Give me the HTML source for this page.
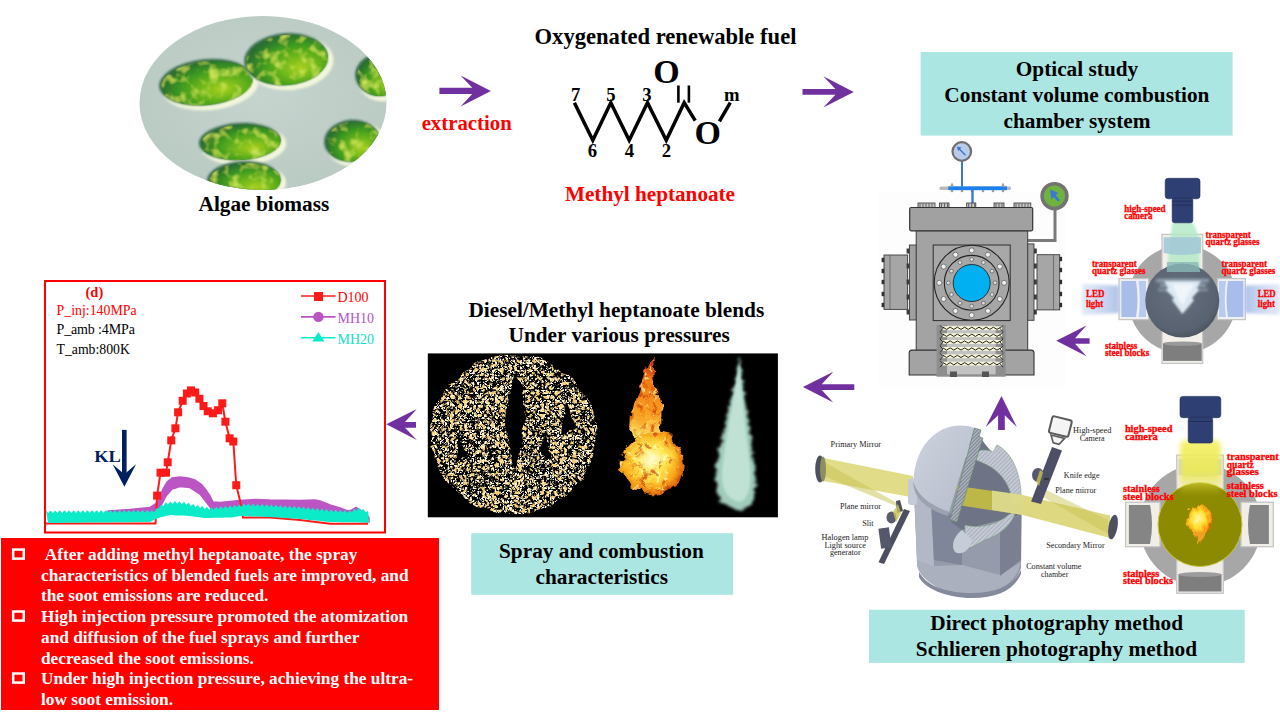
<!DOCTYPE html>
<html><head><meta charset="utf-8">
<style>
html,body{margin:0;padding:0;background:#fff;width:1280px;height:720px;overflow:hidden}
svg{display:block}
text{font-family:"Liberation Serif",serif}
.b{font-weight:bold}
.t21{font-size:21.3px;font-weight:bold;fill:#000}
</style></head><body>
<svg width="1280" height="720" viewBox="0 0 1280 720">
<defs>
</defs>
<rect width="1280" height="720" fill="#fff"/>

<!-- ===== ALGAE ===== -->
<g id="algae">
<clipPath id="algclip"><ellipse cx="263" cy="103" rx="123.5" ry="87"/></clipPath>
<radialGradient id="cellg" cx="0.62" cy="0.62" r="0.62" fx="0.66" fy="0.68">
<stop offset="0" stop-color="#A8D020"/><stop offset="0.35" stop-color="#70B81C"/><stop offset="0.7" stop-color="#3C9A20"/><stop offset="1" stop-color="#2A7030"/>
</radialGradient>
<radialGradient id="bgg" cx="0.5" cy="0.45" r="0.7">
<stop offset="0" stop-color="#C6D4CE"/><stop offset="1" stop-color="#B6C8C0"/>
</radialGradient>
<filter id="blot" x="-20%" y="-20%" width="140%" height="140%">
<feTurbulence type="fractalNoise" baseFrequency="0.1" numOctaves="2" seed="3" result="n"/>
<feColorMatrix in="n" type="matrix" values="0 0 0 0 0.64  0 0 0 0 0.83  0 0 0 0 0.1  2.2 0 0 0 -1.05" result="c"/>
<feComposite in="c" in2="SourceGraphic" operator="in" result="cc"/>
<feMerge><feMergeNode in="SourceGraphic"/><feMergeNode in="cc"/></feMerge>
</filter>
<filter id="soft"><feGaussianBlur stdDeviation="1.2"/></filter>
<g clip-path="url(#algclip)">
<rect x="135" y="12" width="256" height="182" fill="url(#bgg)"/>
<g transform="rotate(-6 207 83)"><ellipse cx="209.8" cy="85.8" rx="48.6" ry="24.6" fill="#F2F6DC" filter="url(#soft)"/><ellipse cx="206" cy="82" rx="47" ry="23" fill="#3C6E50" filter="url(#soft)"/><ellipse cx="207" cy="83" rx="46" ry="22" fill="url(#cellg)" filter="url(#blot)"/></g>
<g transform="rotate(-5 287 60)"><ellipse cx="289.8" cy="62.8" rx="43.6" ry="27.6" fill="#F2F6DC" filter="url(#soft)"/><ellipse cx="286" cy="59" rx="42" ry="26" fill="#3C6E50" filter="url(#soft)"/><ellipse cx="287" cy="60" rx="41" ry="25" fill="url(#cellg)" filter="url(#blot)"/></g>
<g transform="rotate(0 380 76)"><ellipse cx="382.8" cy="78.8" rx="25.6" ry="22.6" fill="#F2F6DC" filter="url(#soft)"/><ellipse cx="379" cy="75" rx="24" ry="21" fill="#3C6E50" filter="url(#soft)"/><ellipse cx="380" cy="76" rx="23" ry="20" fill="url(#cellg)" filter="url(#blot)"/></g>
<g transform="rotate(-3 240.8 142.4)"><ellipse cx="243.6" cy="145.2" rx="42.6" ry="20.2" fill="#F2F6DC" filter="url(#soft)"/><ellipse cx="239.8" cy="141.4" rx="41" ry="18.6" fill="#3C6E50" filter="url(#soft)"/><ellipse cx="240.8" cy="142.4" rx="40" ry="17.6" fill="url(#cellg)" filter="url(#blot)"/></g>
<g transform="rotate(-2 244.7 181)"><ellipse cx="247.5" cy="183.8" rx="38.6" ry="20.6" fill="#F2F6DC" filter="url(#soft)"/><ellipse cx="243.7" cy="180" rx="37" ry="19" fill="#3C6E50" filter="url(#soft)"/><ellipse cx="244.7" cy="181" rx="36" ry="18" fill="url(#cellg)" filter="url(#blot)"/></g>
<g transform="rotate(-5 353 141.6)"><ellipse cx="355.8" cy="144.4" rx="29.6" ry="22.6" fill="#F2F6DC" filter="url(#soft)"/><ellipse cx="352" cy="140.6" rx="28" ry="21" fill="#3C6E50" filter="url(#soft)"/><ellipse cx="353" cy="141.6" rx="27" ry="20" fill="url(#cellg)" filter="url(#blot)"/></g>
</g></g>
<text class="t21" x="263.9" y="210.5" text-anchor="middle">Algae biomass</text>


<text x="466.7" y="130.2" text-anchor="middle" style="font-size:20.8px;font-weight:bold;fill:#f00">extraction</text>

<!-- ===== CHEM ===== -->
<text x="665.5" y="44.4" text-anchor="middle" style="font-size:22.6px;font-weight:bold">Oxygenated renewable fuel</text>
<g fill="none" stroke="#000" stroke-width="3.5" stroke-linejoin="miter">
<polyline points="574.4,102.7 592.8,140.2 610.8,102.7 629.2,140.2 647.5,102.7 666.25,140.2 684.2,102.7 695.2,120.6"/>
<line x1="719.4" y1="121.4" x2="730.3" y2="102.7"/>
<line x1="678.4" y1="85.5" x2="678.4" y2="102.7" stroke-width="2.6"/>
<line x1="688.9" y1="85.5" x2="688.9" y2="102.7" stroke-width="2.6"/>
</g>
<g style="font-size:18.7px;font-weight:bold" text-anchor="middle">
<text x="575.7" y="101">7</text><text x="610.8" y="101">5</text><text x="647" y="101">3</text><text x="731.8" y="101">m</text>
<text x="592.3" y="157.3">6</text><text x="629.4" y="157.3">4</text><text x="666.3" y="157.3">2</text>
</g>
<g style="font-size:34px;font-weight:bold" text-anchor="middle">
<text x="666.5" y="83">O</text><text x="707.7" y="144">O</text>
</g>
<text x="650" y="200.6" text-anchor="middle" style="font-size:21.2px;font-weight:bold;fill:#f00">Methyl heptanoate</text>

<!-- ===== TEAL BOXES ===== -->
<rect x="920.6" y="52" width="312" height="83.6" fill="#ABE6E2"/>
<text class="t21" x="1077" y="76.4" text-anchor="middle">Optical study</text>
<text class="t21" x="1076.9" y="101.9" text-anchor="middle">Constant volume combustion</text>
<text class="t21" x="1077" y="127.6" text-anchor="middle">chamber system</text>

<rect x="471.2" y="533.2" width="261.9" height="61.6" fill="#ABE6E2"/>
<text class="t21" x="601.4" y="557.8" text-anchor="middle">Spray and combustion</text>
<text class="t21" x="601.7" y="583.8" text-anchor="middle">characteristics</text>

<rect x="869" y="609.8" width="375.7" height="53.1" fill="#ABE6E2"/>
<text class="t21" x="1056.7" y="630.1" text-anchor="middle">Direct photography method</text>
<text class="t21" x="1056.4" y="656.4" text-anchor="middle">Schlieren photography method</text>

<text class="t21" x="616.3" y="316.6" text-anchor="middle">Diesel/Methyl heptanoate blends</text>
<text class="t21" x="619.2" y="342" text-anchor="middle">Under various pressures</text>

<!-- ===== SPRAY IMAGE ===== -->
<rect x="427.8" y="353.4" width="350.1" height="163.9" fill="#000"/>
<g id="spray">
<clipPath id="sprclip"><rect x="427.8" y="353.4" width="350.1" height="163.9"/></clipPath>
<filter id="speck" x="0" y="0" width="100%" height="100%" filterUnits="userSpaceOnUse" color-interpolation-filters="sRGB">
<feTurbulence type="turbulence" baseFrequency="0.22" numOctaves="3" seed="7" result="n"/>
<feColorMatrix in="n" type="matrix" values="0 0 0 0 0.96  0 0 0 0 0.8  0 0 0 0 0.45  5 0 0 0 -1.3" result="c"/>
<feTurbulence type="turbulence" baseFrequency="0.4" numOctaves="2" seed="21" result="n2"/>
<feColorMatrix in="n2" type="matrix" values="0 0 0 0 1  0 0 0 0 0.98  0 0 0 0 0.88  6 0 0 0 -1.6" result="c2"/>
<feMerge result="m"><feMergeNode in="c"/><feMergeNode in="c2"/></feMerge>
<feTurbulence type="fractalNoise" baseFrequency="0.06" numOctaves="2" seed="13" result="dn"/>
<feDisplacementMap in="SourceGraphic" in2="dn" scale="9" xChannelSelector="R" yChannelSelector="G" result="src"/>
<feComposite in="m" in2="src" operator="in"/>
</filter>
<filter id="flameT" x="-30%" y="-30%" width="160%" height="160%">
<feTurbulence type="fractalNoise" baseFrequency="0.08" numOctaves="3" seed="11" result="n"/>
<feDisplacementMap in="SourceGraphic" in2="n" scale="12" xChannelSelector="R" yChannelSelector="G"/>
</filter>
<filter id="blur3"><feGaussianBlur stdDeviation="3"/></filter>
<filter id="blur15"><feGaussianBlur stdDeviation="1.8"/></filter>
<filter id="sprayT" x="-40%" y="-20%" width="180%" height="140%">
<feTurbulence type="fractalNoise" baseFrequency="0.09 0.25" numOctaves="3" seed="17" result="n"/>
<feDisplacementMap in="SourceGraphic" in2="n" scale="8" xChannelSelector="R" yChannelSelector="G" result="d"/>
<feGaussianBlur in="d" stdDeviation="1.6"/>
</filter>
<filter id="flameTex" x="-30%" y="-30%" width="160%" height="160%" color-interpolation-filters="sRGB">
<feTurbulence type="fractalNoise" baseFrequency="0.14" numOctaves="3" seed="4" result="n"/>
<feColorMatrix in="n" type="matrix" values="0 0 0 0 0.78  0 0 0 0 0.2  0 0 0 0 0.02  -5 0 0 0 2.2" result="c"/>
<feComposite in="c" in2="SourceGraphic" operator="in" result="dark"/>
<feTurbulence type="fractalNoise" baseFrequency="0.2" numOctaves="2" seed="9" result="n2"/>
<feColorMatrix in="n2" type="matrix" values="0 0 0 0 1  0 0 0 0 1  0 0 0 0 0.75  6 0 0 0 -3.6" result="c2"/>
<feComposite in="c2" in2="SourceGraphic" operator="in" result="lite"/>
<feMerge><feMergeNode in="dark"/><feMergeNode in="lite"/></feMerge>
</filter>
<filter id="blur1"><feGaussianBlur stdDeviation="1"/></filter>
<radialGradient id="flameG" cx="0.45" cy="0.45" r="0.6">
<stop offset="0" stop-color="#FFFAD0"/><stop offset="0.4" stop-color="#FFE850"/><stop offset="0.72" stop-color="#F8A818"/><stop offset="1" stop-color="#D04808"/>
</radialGradient>
<linearGradient id="plumeG" x1="0" y1="0" x2="0" y2="1">
<stop offset="0" stop-color="#C83010"/><stop offset="0.3" stop-color="#F27A12"/><stop offset="0.7" stop-color="#F8A020"/><stop offset="1" stop-color="#FFE060"/>
</linearGradient>
<g clip-path="url(#sprclip)">
<g filter="url(#speck)">
<path fill="#fff" fill-rule="evenodd" d="M513.6,355.6 a83,79 0 1,0 0.1,0 Z M516,372 C506,400 503,440 515,470 C527,440 528,400 516,372 Z M566,402 L578,428 L562,434 Z M546,432 L550,462 L539,452 Z M458,436 L468,458 L454,464 Z"/>
</g>
<g filter="url(#flameT)">
<path d="M655,358 C657,366 652,376 656,386 C662,396 662,412 661,428 L664,436 L632,438 C630,420 633,404 638,394 C642,386 643,376 647,368 C650,363 653,361 655,358 Z" fill="url(#plumeG)"/>
<ellipse cx="653.7" cy="463.4" rx="32" ry="31" fill="url(#flameG)"/>
<g filter="url(#flameTex)" opacity="0.7">
<ellipse cx="653.7" cy="463.4" rx="32" ry="31" fill="#fff"/>
<path d="M655,358 C657,366 652,376 656,386 C662,396 662,412 661,428 L632,438 C630,420 633,404 638,394 C642,386 643,376 647,368 Z" fill="#fff"/>
</g>
</g>
<path d="M739.4,355 C742,380 748,420 753,455 C758,485 757,505 740,510 C722,508 713,495 716,470 C722,430 735,390 739.4,355 Z" fill="#A0CCBC" filter="url(#sprayT)"/>
<path d="M739.4,362 C741,390 745,425 749,458 C752,482 750,498 740,502 C728,500 721,490 722,472 C726,435 735,395 739.4,362 Z" fill="#C0E2D4" filter="url(#blur1)"/>
</g>
</g>

<!-- ===== CHART ===== -->
<rect x="45" y="281" width="340" height="251.5" fill="#fff" stroke="#f00" stroke-width="2"/>
<g id="chart">
<polygon points="108,511 130,509.5 150,507.5 157,503 160,497 163,489 167,482 172,478 180,477 188,478 195,480 201,484 206,490 210,496 213,502 220,502.5 240,500.5 255,499.4 270,500 300,500.5 315,500 320,501 330,505 340,508 348,511 352,510 356,507.5 360,510 366,513 369,518 369,522 213,511 207,503 200,494 190,487.5 180,486.5 172,489 166,496 161,506 155,514 108,516" fill="#BC55C4" stroke="#BC55C4" stroke-width="1.5" stroke-linejoin="round"/>
<polyline points="46,523.5 155.5,523.5 157.1,495.6 160.5,472.7 166,472.7 167.7,462.3 171.25,440.4 175.4,428.3 178.1,412.3 182.7,400.8 186.9,393.5 191,390.4 195.2,392.5 199.4,398.75 203.5,406 207.7,411.25 212.9,413.3 218.1,410.2 222.3,403.3 225.4,421.7 229.6,438.3 233.3,441.5 236.25,485.2 240,500.8 243,517.5 270,517.5 300,520 330,523.7 368,523.7" fill="none" stroke="#FF1A1A" stroke-width="2"/>
<g fill="#FF1A1A"><rect x="153.1" y="491.6" width="8" height="8"/><rect x="156.5" y="468.7" width="8" height="8"/><rect x="162" y="468.7" width="8" height="8"/><rect x="163.7" y="458.3" width="8" height="8"/><rect x="167.25" y="436.4" width="8" height="8"/><rect x="171.4" y="424.3" width="8" height="8"/><rect x="174.1" y="408.3" width="8" height="8"/><rect x="178.7" y="396.8" width="8" height="8"/><rect x="182.9" y="389.5" width="8" height="8"/><rect x="187" y="386.4" width="8" height="8"/><rect x="191.2" y="388.5" width="8" height="8"/><rect x="195.4" y="394.75" width="8" height="8"/><rect x="199.5" y="402" width="8" height="8"/><rect x="203.7" y="407.25" width="8" height="8"/><rect x="208.9" y="409.3" width="8" height="8"/><rect x="214.1" y="406.2" width="8" height="8"/><rect x="218.3" y="399.3" width="8" height="8"/><rect x="221.4" y="417.7" width="8" height="8"/><rect x="225.6" y="434.3" width="8" height="8"/><rect x="229.3" y="437.5" width="8" height="8"/><rect x="232.25" y="481.2" width="8" height="8"/></g>
<polygon points="46.0,510.4 48.3,513.0 50.6,510.4 52.9,513.0 55.2,510.4 57.5,512.9 59.8,510.3 62.1,512.9 64.4,510.3 66.7,512.9 69.0,510.3 71.3,512.9 73.6,510.3 75.9,512.9 78.2,510.3 80.5,512.8 82.8,510.2 85.1,512.8 87.4,510.2 89.7,512.8 92.0,510.2 94.3,512.8 96.6,510.2 98.9,512.8 101.2,510.1 103.5,512.7 105.8,510.1 108.1,512.7 110.4,510.1 112.7,512.7 115.0,510.1 117.3,512.7 119.6,510.1 121.9,512.7 124.2,510.0 126.5,512.6 128.8,510.0 131.1,512.6 133.4,510.0 135.7,512.6 138.0,510.0 140.3,512.6 142.6,510.0 144.9,512.5 147.2,509.9 149.5,512.5 151.8,509.9 154.1,512.5 156.4,508.3 158.7,508.6 161.0,504.7 163.3,506.0 165.6,502.3 167.9,504.6 170.2,501.6 172.5,503.9 174.8,500.9 177.1,503.7 179.4,501.3 181.7,504.2 184.0,501.8 186.3,504.8 188.6,502.8 190.9,506.0 193.2,504.0 195.5,507.1 197.8,505.0 200.1,508.0 202.4,505.9 204.7,508.9 207.0,506.8 209.3,509.9 211.6,507.2 213.9,509.6 216.2,506.8 218.5,509.1 220.8,506.3 223.1,508.7 225.4,505.9 227.7,508.2 230.0,505.4 232.3,507.8 234.6,504.9 236.9,507.3 239.2,504.5 241.5,506.7 243.8,503.6 246.1,506.0 248.4,503.5 250.7,506.2 253.0,503.7 255.3,506.4 257.6,503.9 259.9,506.6 262.2,504.1 264.5,506.8 266.8,504.3 269.1,507.0 271.4,504.5 273.7,507.2 276.0,504.8 278.3,507.6 280.6,505.1 282.9,507.9 285.2,505.4 287.5,508.2 289.8,505.7 292.1,508.5 294.4,506.0 296.7,508.8 299.0,506.3 301.3,509.1 303.6,506.8 305.9,509.6 308.2,507.2 310.5,510.1 312.8,507.7 315.1,510.5 317.4,508.1 319.7,511.0 322.0,508.6 324.3,511.4 326.6,509.1 328.9,511.9 331.2,509.5 333.5,512.2 335.8,509.7 338.1,512.4 340.4,509.9 342.7,512.6 345.0,510.1 347.3,512.9 349.6,510.4 351.9,512.2 354.2,508.7 356.5,510.7 358.8,507.6 361.1,510.5 363.4,508.9 365.7,512.5 368.0,511.0 369.0,522.5 366.0,522.5 363.0,522.4 360.0,522.4 357.0,522.3 354.0,522.3 351.0,522.3 348.0,522.2 345.0,522.2 342.0,522.2 339.0,522.1 336.0,522.1 333.0,522.0 330.0,522.0 327.0,521.7 324.0,521.4 321.0,521.1 318.0,520.8 315.0,520.5 312.0,520.2 309.0,519.9 306.0,519.6 303.0,519.3 300.0,519.0 297.0,518.8 294.0,518.6 291.0,518.4 288.0,518.2 285.0,518.0 282.0,517.8 279.0,517.6 276.0,517.4 273.0,517.2 270.0,517.0 267.0,516.9 264.0,516.8 261.0,516.7 258.0,516.6 255.0,516.5 252.0,516.4 249.0,516.3 246.0,516.2 243.0,516.1 240.0,516.0 237.0,516.5 234.0,516.9 231.0,517.4 228.0,517.5 225.0,517.6 222.0,517.7 219.0,517.7 216.0,517.8 213.0,517.8 210.0,517.9 207.0,518.0 204.0,517.9 201.0,517.5 198.0,517.1 195.0,516.7 192.0,516.3 189.0,516.0 186.0,515.8 183.0,515.6 180.0,515.5 177.0,515.4 174.0,515.2 171.0,515.0 168.0,515.5 165.0,516.2 162.0,517.0 159.0,517.8 156.0,519.0 153.0,520.5 150.0,522.0 147.0,522.0 144.0,522.1 141.0,522.1 138.0,522.1 135.0,522.1 132.0,522.2 129.0,522.2 126.0,522.2 123.0,522.3 120.0,522.3 117.0,522.3 114.0,522.3 111.0,522.4 108.0,522.4 105.0,522.4 102.0,522.5 99.0,522.5 96.0,522.5 93.0,522.5 90.0,522.6 87.0,522.6 84.0,522.6 81.0,522.7 78.0,522.7 75.0,522.7 72.0,522.8 69.0,522.8 66.0,522.8 63.0,522.8 60.0,522.9 57.0,522.9 54.0,522.9 51.0,523.0 48.0,523.0" fill="#0CEBC8"/>
<!-- legend -->
<line x1="301" y1="296" x2="335.6" y2="296" stroke="#FF1A1A" stroke-width="1.6"/>
<rect x="314" y="292" width="9" height="9" fill="#FF1A1A"/>
<line x1="301" y1="316.9" x2="335.6" y2="316.9" stroke="#BC55C4" stroke-width="1.6"/>
<circle cx="318.4" cy="316.9" r="5.2" fill="#BC55C4"/>
<line x1="301" y1="337.75" x2="335.6" y2="337.75" stroke="#0CEBC8" stroke-width="1.6"/>
<polygon points="318.4,331.9 324.4,341.6 312.3,341.6" fill="#0CEBC8"/>
<!-- KL arrow -->
<text x="94.2" y="461.7" textLength="26.6" lengthAdjust="spacingAndGlyphs" style="font-size:17.2px;font-weight:bold;fill:#002060">KL</text>
<rect x="122" y="429.9" width="4.6" height="48" fill="#002060"/>
<polygon points="124.4,486.7 112.6,464.3 124.4,474.2 136,464.3" fill="#002060"/>
</g>
<text x="94.4" y="296.6" text-anchor="middle" style="font-size:14.5px;font-weight:bold;fill:#f00">(d)</text>
<g style="font-size:14px">
<text x="56.5" y="315" fill="#f00" textLength="80.2" lengthAdjust="spacingAndGlyphs">P_inj:140MPa</text>
<text x="56.5" y="333.75" fill="#000" textLength="78.4" lengthAdjust="spacing">P_amb :4MPa</text>
<text x="56.5" y="353.75" fill="#000" textLength="73.4" lengthAdjust="spacingAndGlyphs">T_amb:800K</text>
<text x="337.5" y="301.9" fill="#f00">D100</text>
<text x="337.5" y="322.75" fill="#B955C6">MH10</text>
<text x="337.5" y="343.5" fill="#0FE0C8">MH20</text>
</g>

<!-- ===== RED BOX ===== -->
<rect x="1" y="538" width="438" height="172" fill="#f00"/>
<g fill="none" stroke="#fff" stroke-width="2.5">
<rect x="13.15" y="549.55" width="10.6" height="9.1"/>
<rect x="13.15" y="611.5" width="10.6" height="9.1"/>
<rect x="13.15" y="673.5" width="10.6" height="9.1"/>
</g>
<g style="font-size:17.3px;font-weight:bold" fill="#fff">
<text x="44.7" y="560.1">After adding methyl heptanoate, the spray</text>
<text x="41" y="580.5">characteristics of blended fuels are improved, and</text>
<text x="41" y="601.0">the soot emissions are reduced.</text>
<text x="41" y="621.8">High injection pressure promoted the atomization</text>
<text x="41" y="642.7">and diffusion of the fuel sprays and further</text>
<text x="41" y="663.5">decreased the soot emissions.</text>
<text x="41" y="684.1">Under high injection pressure, achieving the ultra-</text>
<text x="41" y="704.9">low soot emission.</text>
</g>

<!-- ===== CHAMBER ===== -->
<g id="chamber">
<rect x="878" y="191" width="188" height="196" fill="#FDFDFD"/>
<line x1="962" y1="160" x2="962" y2="188" stroke="#3A78D8" stroke-width="2"/>
<rect x="939.5" y="186.6" width="71.5" height="3.4" rx="1.5" fill="#B8B8B8"/>
<rect x="948.3" y="186.4" width="58.7" height="3.8" fill="#1A80F0"/>
<circle cx="952" cy="191" r="1.3" fill="#9A9A9A"/>
<circle cx="962" cy="191" r="1.3" fill="#9A9A9A"/>
<circle cx="972" cy="191" r="1.3" fill="#9A9A9A"/>
<circle cx="983" cy="191" r="1.3" fill="#9A9A9A"/>
<circle cx="993" cy="191" r="1.3" fill="#9A9A9A"/>
<circle cx="1003" cy="191" r="1.3" fill="#9A9A9A"/>
<polygon points="950,186.5 952,182.5 954,186.5" fill="#A0A0A0"/>
<polygon points="1001,186.5 1003,182.5 1005,186.5" fill="#A0A0A0"/>
<line x1="972.5" y1="189" x2="972.5" y2="206" stroke="#3A78D8" stroke-width="2.4"/>
<circle cx="961.8" cy="151.5" r="9.3" fill="#B8CCEA" stroke="#6E6E6E" stroke-width="2.2"/>
<line x1="958.5" y1="148.2" x2="965.5" y2="155.2" stroke="#3A70C8" stroke-width="1.3"/><polygon points="957,146.5 961.5,147.5 958,151" fill="#3A70C8"/>
<polyline points="1055,208 1055,240.4 1027.5,240.4" fill="none" stroke="#7A7A7A" stroke-width="3"/>
<circle cx="1054.5" cy="196.1" r="12.4" fill="#6FB33E" stroke="#737373" stroke-width="3.6"/>
<polygon points="1050,189.5 1058.5,193 1055.5,195 1060,200 1058,201.5 1053.5,197 1051.5,199.5" fill="#3A78D8"/>
<rect x="884" y="255" width="23.6" height="54.4" fill="#A6A6A6" stroke="#3C3C3C" stroke-width="0.9"/>
<line x1="890" y1="255" x2="890" y2="309.4" stroke="#555" stroke-width="0.7"/>
<rect x="909.4" y="245" width="7" height="75" fill="#A0A0A0" stroke="#3C3C3C" stroke-width="0.9"/>
<rect x="881.6" y="257.8" width="2.6" height="4.4" fill="#2E2E2E"/>
<rect x="881.6" y="268.8" width="2.6" height="4.4" fill="#2E2E2E"/>
<rect x="881.6" y="279.8" width="2.6" height="4.4" fill="#2E2E2E"/>
<rect x="881.6" y="291.8" width="2.6" height="4.4" fill="#2E2E2E"/>
<rect x="881.6" y="302.8" width="2.6" height="4.4" fill="#2E2E2E"/>
<rect x="906.6" y="248.5" width="2.8" height="5" fill="#3A3A3A"/>
<rect x="906.6" y="263.5" width="2.8" height="5" fill="#3A3A3A"/>
<rect x="906.6" y="279.5" width="2.8" height="5" fill="#3A3A3A"/>
<rect x="906.6" y="294.5" width="2.8" height="5" fill="#3A3A3A"/>
<rect x="906.6" y="309.5" width="2.8" height="5" fill="#3A3A3A"/>
<rect x="1037" y="254.7" width="22.7" height="55.2" fill="#A6A6A6" stroke="#3C3C3C" stroke-width="0.9"/>
<line x1="1053.5" y1="254.7" x2="1053.5" y2="309.9" stroke="#555" stroke-width="0.7"/>
<rect x="1027.1" y="243.9" width="6.9" height="76.4" fill="#A0A0A0" stroke="#3C3C3C" stroke-width="0.9"/>
<rect x="1059.5" y="256.8" width="2.6" height="4.4" fill="#2E2E2E"/>
<rect x="1059.5" y="267.8" width="2.6" height="4.4" fill="#2E2E2E"/>
<rect x="1059.5" y="279.8" width="2.6" height="4.4" fill="#2E2E2E"/>
<rect x="1059.5" y="291.8" width="2.6" height="4.4" fill="#2E2E2E"/>
<rect x="1059.5" y="302.8" width="2.6" height="4.4" fill="#2E2E2E"/>
<rect x="1034" y="248.5" width="2.8" height="5" fill="#3A3A3A"/>
<rect x="1034" y="263.5" width="2.8" height="5" fill="#3A3A3A"/>
<rect x="1034" y="279.5" width="2.8" height="5" fill="#3A3A3A"/>
<rect x="1034" y="294.5" width="2.8" height="5" fill="#3A3A3A"/>
<rect x="1034" y="309.5" width="2.8" height="5" fill="#3A3A3A"/>
<rect x="916.2" y="230.6" width="111.5" height="121" fill="#A3A3A3" stroke="#3C3C3C" stroke-width="1"/>
<rect x="939.5" y="203" width="9.5" height="5.5" fill="#C8C8C8" stroke="#333" stroke-width="0.8"/>
<rect x="966.7" y="203" width="9.099999999999909" height="5.5" fill="#C8C8C8" stroke="#333" stroke-width="0.8"/>
<rect x="994" y="203" width="10" height="5.5" fill="#C8C8C8" stroke="#333" stroke-width="0.8"/>
<rect x="1014" y="203" width="16.799999999999955" height="5.5" fill="#C8C8C8" stroke="#333" stroke-width="0.8"/>
<rect x="918" y="203" width="17" height="5.5" fill="#C8C8C8" stroke="#333" stroke-width="0.8"/>
<line x1="941.5" y1="203.5" x2="941.5" y2="208" stroke="#333" stroke-width="0.7"/>
<line x1="944.5" y1="203.5" x2="944.5" y2="208" stroke="#333" stroke-width="0.7"/>
<line x1="947.5" y1="203.5" x2="947.5" y2="208" stroke="#333" stroke-width="0.7"/>
<line x1="968.7" y1="203.5" x2="968.7" y2="208" stroke="#333" stroke-width="0.7"/>
<line x1="971.7" y1="203.5" x2="971.7" y2="208" stroke="#333" stroke-width="0.7"/>
<line x1="974.7" y1="203.5" x2="974.7" y2="208" stroke="#333" stroke-width="0.7"/>
<line x1="996.0" y1="203.5" x2="996.0" y2="208" stroke="#333" stroke-width="0.7"/>
<line x1="999.0" y1="203.5" x2="999.0" y2="208" stroke="#333" stroke-width="0.7"/>
<line x1="1002.0" y1="203.5" x2="1002.0" y2="208" stroke="#333" stroke-width="0.7"/>
<line x1="1016.0" y1="203.5" x2="1016.0" y2="208" stroke="#333" stroke-width="0.7"/>
<line x1="1019.0" y1="203.5" x2="1019.0" y2="208" stroke="#333" stroke-width="0.7"/>
<line x1="1022.0" y1="203.5" x2="1022.0" y2="208" stroke="#333" stroke-width="0.7"/>
<line x1="1025.0" y1="203.5" x2="1025.0" y2="208" stroke="#333" stroke-width="0.7"/>
<line x1="1028.0" y1="203.5" x2="1028.0" y2="208" stroke="#333" stroke-width="0.7"/>
<line x1="920.0" y1="203.5" x2="920.0" y2="208" stroke="#333" stroke-width="0.7"/>
<line x1="923.0" y1="203.5" x2="923.0" y2="208" stroke="#333" stroke-width="0.7"/>
<line x1="926.0" y1="203.5" x2="926.0" y2="208" stroke="#333" stroke-width="0.7"/>
<line x1="929.0" y1="203.5" x2="929.0" y2="208" stroke="#333" stroke-width="0.7"/>
<line x1="932.0" y1="203.5" x2="932.0" y2="208" stroke="#333" stroke-width="0.7"/>
<rect x="909.7" y="207.5" width="123" height="23.3" rx="1.5" fill="#A1A1A1" stroke="#333" stroke-width="1.2"/>
<rect x="933.2" y="245" width="77" height="75.6" fill="#A8A8A8" stroke="#2E2E2E" stroke-width="1"/>
<circle cx="971.7" cy="282.8" r="37.5" fill="#A6A6A6" stroke="#222" stroke-width="1.1"/>
<circle cx="971.7" cy="282.8" r="27.4" fill="#A8A8A8" stroke="#222" stroke-width="1.1"/>
<circle cx="971.7" cy="250.4" r="2.5" fill="#F0F0F0" stroke="#444" stroke-width="0.6"/>
<circle cx="971.7" cy="259.4" r="1.9" fill="#E0E0E0" stroke="#444" stroke-width="0.6"/>
<circle cx="955.5" cy="254.7" r="2.5" fill="#F0F0F0" stroke="#444" stroke-width="0.6"/>
<circle cx="960.0" cy="262.5" r="1.9" fill="#E0E0E0" stroke="#444" stroke-width="0.6"/>
<circle cx="943.6" cy="266.6" r="2.5" fill="#F0F0F0" stroke="#444" stroke-width="0.6"/>
<circle cx="951.4" cy="271.1" r="1.9" fill="#E0E0E0" stroke="#444" stroke-width="0.6"/>
<circle cx="939.3" cy="282.8" r="2.5" fill="#F0F0F0" stroke="#444" stroke-width="0.6"/>
<circle cx="948.3" cy="282.8" r="1.9" fill="#E0E0E0" stroke="#444" stroke-width="0.6"/>
<circle cx="943.6" cy="299.0" r="2.5" fill="#F0F0F0" stroke="#444" stroke-width="0.6"/>
<circle cx="951.4" cy="294.5" r="1.9" fill="#E0E0E0" stroke="#444" stroke-width="0.6"/>
<circle cx="955.5" cy="310.9" r="2.5" fill="#F0F0F0" stroke="#444" stroke-width="0.6"/>
<circle cx="960.0" cy="303.1" r="1.9" fill="#E0E0E0" stroke="#444" stroke-width="0.6"/>
<circle cx="971.7" cy="315.2" r="2.5" fill="#F0F0F0" stroke="#444" stroke-width="0.6"/>
<circle cx="971.7" cy="306.2" r="1.9" fill="#E0E0E0" stroke="#444" stroke-width="0.6"/>
<circle cx="987.9" cy="310.9" r="2.5" fill="#F0F0F0" stroke="#444" stroke-width="0.6"/>
<circle cx="983.4" cy="303.1" r="1.9" fill="#E0E0E0" stroke="#444" stroke-width="0.6"/>
<circle cx="999.8" cy="299.0" r="2.5" fill="#F0F0F0" stroke="#444" stroke-width="0.6"/>
<circle cx="992.0" cy="294.5" r="1.9" fill="#E0E0E0" stroke="#444" stroke-width="0.6"/>
<circle cx="1004.1" cy="282.8" r="2.5" fill="#F0F0F0" stroke="#444" stroke-width="0.6"/>
<circle cx="995.1" cy="282.8" r="1.9" fill="#E0E0E0" stroke="#444" stroke-width="0.6"/>
<circle cx="999.8" cy="266.6" r="2.5" fill="#F0F0F0" stroke="#444" stroke-width="0.6"/>
<circle cx="992.0" cy="271.1" r="1.9" fill="#E0E0E0" stroke="#444" stroke-width="0.6"/>
<circle cx="987.9" cy="254.7" r="2.5" fill="#F0F0F0" stroke="#444" stroke-width="0.6"/>
<circle cx="983.4" cy="262.5" r="1.9" fill="#E0E0E0" stroke="#444" stroke-width="0.6"/>
<circle cx="971.7" cy="283" r="18.5" fill="#00B0F0" stroke="#222" stroke-width="0.9"/>
<path d="M909.2,375 L909.2,353 Q909.2,350.1 912,350.1 L1031,350.1 Q1034,350.1 1034,353 L1034,375 Z" fill="#A3A3A3" stroke="#333" stroke-width="1.1"/>
<rect x="936.6" y="325.3" width="69" height="51.4" fill="#8E8E8E"/>
<rect x="947" y="325.3" width="48.6" height="49" fill="#C2C2C2"/>
<rect x="942.5" y="326.3" width="59.5" height="3.8" fill="#FAF8D8"/>
<polyline points="943.0,327.2 946.6,329.4 950.2,327.2 953.8,329.4 957.4,327.2 961.0,329.4 964.6,327.2 968.2,329.4 971.8,327.2 975.4,329.4 979.0,327.2 982.6,329.4 986.2,327.2 989.8,329.4 993.4,327.2 997.0,329.4 1000.6,327.2" fill="none" stroke="#1E1E1E" stroke-width="1"/>
<polyline points="940,325.3 943,328.3 940,331.8" fill="none" stroke="#222" stroke-width="0.9"/>
<polyline points="1003,325.3 1000,328.3 1003,331.8" fill="none" stroke="#222" stroke-width="0.9"/>
<rect x="942.5" y="333.3" width="59.5" height="3.8" fill="#FAF8D8"/>
<polyline points="943.0,334.2 946.6,336.4 950.2,334.2 953.8,336.4 957.4,334.2 961.0,336.4 964.6,334.2 968.2,336.4 971.8,334.2 975.4,336.4 979.0,334.2 982.6,336.4 986.2,334.2 989.8,336.4 993.4,334.2 997.0,336.4 1000.6,334.2" fill="none" stroke="#1E1E1E" stroke-width="1"/>
<polyline points="940,332.3 943,335.3 940,338.8" fill="none" stroke="#222" stroke-width="0.9"/>
<polyline points="1003,332.3 1000,335.3 1003,338.8" fill="none" stroke="#222" stroke-width="0.9"/>
<rect x="942.5" y="340.0" width="59.5" height="3.8" fill="#FAF8D8"/>
<polyline points="943.0,340.9 946.6,343.1 950.2,340.9 953.8,343.1 957.4,340.9 961.0,343.1 964.6,340.9 968.2,343.1 971.8,340.9 975.4,343.1 979.0,340.9 982.6,343.1 986.2,340.9 989.8,343.1 993.4,340.9 997.0,343.1 1000.6,340.9" fill="none" stroke="#1E1E1E" stroke-width="1"/>
<polyline points="940,339.0 943,342.0 940,345.5" fill="none" stroke="#222" stroke-width="0.9"/>
<polyline points="1003,339.0 1000,342.0 1003,345.5" fill="none" stroke="#222" stroke-width="0.9"/>
<rect x="942.5" y="347.0" width="59.5" height="3.8" fill="#FAF8D8"/>
<polyline points="943.0,347.9 946.6,350.1 950.2,347.9 953.8,350.1 957.4,347.9 961.0,350.1 964.6,347.9 968.2,350.1 971.8,347.9 975.4,350.1 979.0,347.9 982.6,350.1 986.2,347.9 989.8,350.1 993.4,347.9 997.0,350.1 1000.6,347.9" fill="none" stroke="#1E1E1E" stroke-width="1"/>
<polyline points="940,346.0 943,349.0 940,352.5" fill="none" stroke="#222" stroke-width="0.9"/>
<polyline points="1003,346.0 1000,349.0 1003,352.5" fill="none" stroke="#222" stroke-width="0.9"/>
<rect x="942.5" y="354.4" width="59.5" height="3.8" fill="#FAF8D8"/>
<polyline points="943.0,355.3 946.6,357.5 950.2,355.3 953.8,357.5 957.4,355.3 961.0,357.5 964.6,355.3 968.2,357.5 971.8,355.3 975.4,357.5 979.0,355.3 982.6,357.5 986.2,355.3 989.8,357.5 993.4,355.3 997.0,357.5 1000.6,355.3" fill="none" stroke="#1E1E1E" stroke-width="1"/>
<polyline points="940,353.4 943,356.4 940,359.9" fill="none" stroke="#222" stroke-width="0.9"/>
<polyline points="1003,353.4 1000,356.4 1003,359.9" fill="none" stroke="#222" stroke-width="0.9"/>
<rect x="942.5" y="361.7" width="59.5" height="3.8" fill="#FAF8D8"/>
<polyline points="943.0,362.6 946.6,364.8 950.2,362.6 953.8,364.8 957.4,362.6 961.0,364.8 964.6,362.6 968.2,364.8 971.8,362.6 975.4,364.8 979.0,362.6 982.6,364.8 986.2,362.6 989.8,364.8 993.4,362.6 997.0,364.8 1000.6,362.6" fill="none" stroke="#1E1E1E" stroke-width="1"/>
<polyline points="940,360.7 943,363.7 940,367.2" fill="none" stroke="#222" stroke-width="0.9"/>
<polyline points="1003,360.7 1000,363.7 1003,367.2" fill="none" stroke="#222" stroke-width="0.9"/>
<rect x="950" y="371.5" width="7" height="5.5" fill="#555"/><rect x="982" y="371.5" width="7" height="5.5" fill="#555"/>
</g>
<g id="topview1">
<defs>
<linearGradient id="ledL" x1="0" x2="1"><stop offset="0" stop-color="#C8D6F0" stop-opacity="0.5"/><stop offset="1" stop-color="#AFC3EA"/></linearGradient>
<linearGradient id="ledR" x1="1" x2="0"><stop offset="0" stop-color="#C8D6F0" stop-opacity="0.5"/><stop offset="1" stop-color="#AFC3EA"/></linearGradient>
<radialGradient id="darkC" cx="0.45" cy="0.4" r="0.6"><stop offset="0" stop-color="#667080"/><stop offset="0.85" stop-color="#596270"/><stop offset="1" stop-color="#4E5664"/></radialGradient>
<filter id="b15"><feGaussianBlur stdDeviation="1.5"/></filter>
<filter id="b08"><feGaussianBlur stdDeviation="0.8"/></filter>
</defs>
<circle cx="1182.4" cy="299.2" r="54.2" fill="#A7A7A7"/>
<rect x="1162" y="234.4" width="40.7" height="129" fill="#F3F0EA" stroke="#C4C4C4" stroke-width="1.2"/>
<rect x="1119" y="278.6" width="29.7" height="41" fill="#EEF0F6" stroke="#C4C4C4" stroke-width="1.2"/>
<rect x="1217.5" y="278.6" width="27.8" height="41" fill="#EEF0F6" stroke="#C4C4C4" stroke-width="1.2"/>
<polygon points="1082,284 1119,285.6 1119,313 1082,315" fill="url(#ledL)" filter="url(#b15)"/>
<polygon points="1280,284 1245,285.6 1245,313 1280,315" fill="url(#ledR)" filter="url(#b15)"/>
<path d="M1121.4,281 L1136,281 Q1139,300 1136,317 L1121.4,317 Z" fill="#A9BDEA"/>
<path d="M1138.6,281 L1146,281 L1146,317 L1138.6,317 Q1141,300 1138.6,281 Z" fill="#B8CAEE"/>
<path d="M1243.3,281 L1228,281 Q1225,300 1228,317 L1243.3,317 Z" fill="#A9BDEA"/>
<path d="M1226,281 L1219,281 L1219,317 L1226,317 Q1223.5,300 1226,281 Z" fill="#B8CAEE"/>
<polygon points="1172.2,222 1192.8,222 1198.8,236 1200.3,272 1166.7,272 1170.6,236" fill="#B4EAC8" opacity="0.85" filter="url(#b08)"/>
<path d="M1163.6,237.2 L1201,237.2 L1201,253 Q1182.3,257 1163.6,253 Z" fill="#A3C9D6" opacity="0.9"/>
<rect x="1163" y="343.4" width="38.7" height="17.5" fill="#7E7E7E"/>
<ellipse cx="1182.3" cy="343.6" rx="19.3" ry="2.2" fill="#9A9A9A"/>
<circle cx="1182.3" cy="300.5" r="37" fill="url(#darkC)"/>
<polygon points="1167,262 1198,262 1200.3,272 1166.7,272" fill="#8AB8B8" opacity="0.8"/>
<g filter="url(#b15)" opacity="0.85">
<rect x="1156" y="279" width="53" height="3" fill="#9FB2C0"/>
<rect x="1160" y="284" width="46" height="2.5" fill="#A8BCC8"/>
<rect x="1158" y="289" width="50" height="2" fill="#98AAB8"/>
</g>
<polygon points="1164,281 1201,281 1197,288 1199,290 1192,298 1194,300 1186,310 1182.3,314 1178,308 1172,300 1174,298 1166,290 1168,288" fill="#DCE8F2" filter="url(#b08)"/>
<polygon points="1172,284 1194,284 1182.3,306" fill="#F0F5FA" filter="url(#b08)"/>
<rect x="1165.2" y="178.3" width="34.8" height="20.5" rx="3" fill="#2E3F74" stroke="#1E2A50" stroke-width="0.6"/>
<rect x="1172.2" y="198" width="20.6" height="24.8" rx="2.5" fill="#2E3F74" stroke="#1E2A50" stroke-width="0.6"/>
<line x1="1172.5" y1="201.2" x2="1192.5" y2="201.2" stroke="#1E2A50" stroke-width="0.8"/>
<line x1="1172.5" y1="205" x2="1192.5" y2="205" stroke="#1E2A50" stroke-width="0.8"/>
<g style="font-size:9.6px;font-weight:bold" fill="#FF0000" stroke="#FF0000" stroke-width="0.3">
<text x="1124.2" y="211.9" textLength="41.4" lengthAdjust="spacingAndGlyphs">high-speed</text>
<text x="1124.2" y="218.75" textLength="28.2" lengthAdjust="spacingAndGlyphs">camera</text>
<text x="1205.5" y="238.4" textLength="45.3" lengthAdjust="spacingAndGlyphs">transparent</text>
<text x="1205.5" y="245.3" textLength="53.9" lengthAdjust="spacingAndGlyphs">quartz glasses</text>
<text x="1091.9" y="267.2" textLength="44.8" lengthAdjust="spacingAndGlyphs">transparent</text>
<text x="1091.9" y="273.9" textLength="53.7" lengthAdjust="spacingAndGlyphs">quartz glasses</text>
<text x="1221.6000000000001" y="267.2" textLength="45.3" lengthAdjust="spacingAndGlyphs">transparent</text>
<text x="1221.6000000000001" y="273.9" textLength="53.7" lengthAdjust="spacingAndGlyphs">quartz glasses</text>
<text x="1105.0" y="348.9" textLength="32.2" lengthAdjust="spacingAndGlyphs">stainless</text>
<text x="1105.0" y="355.9" textLength="44.2" lengthAdjust="spacingAndGlyphs">steel blocks</text>
</g>
<g style="font-size:10.5px;font-weight:bold" fill="#FF0000" stroke="#FF0000" stroke-width="0.3">
<text x="1085.95" y="296.6" textLength="18.5" lengthAdjust="spacingAndGlyphs">LED</text>
<text x="1085.95" y="307.2" textLength="17.2" lengthAdjust="spacingAndGlyphs">light</text>
<text x="1257.7" y="296.6" textLength="18" lengthAdjust="spacingAndGlyphs">LED</text>
<text x="1257.7" y="307.2" textLength="17.3" lengthAdjust="spacingAndGlyphs">light</text>
</g>
</g>
<g id="schlieren">
<defs>
<linearGradient id="cylBody" x1="0" y1="0" x2="1" y2="0.3"><stop offset="0" stop-color="#A6ACBA"/><stop offset="0.5" stop-color="#8A909E"/><stop offset="1" stop-color="#6E7482"/></linearGradient>
<linearGradient id="diskG" x1="0" y1="0" x2="1" y2="1"><stop offset="0" stop-color="#CDD2DE"/><stop offset="1" stop-color="#B6BCCA"/></linearGradient>
<pattern id="hatch2" width="2.5" height="2.5" patternUnits="userSpaceOnUse" patternTransform="rotate(45)"><rect width="3" height="3" fill="#A8AEBA"/><line x1="0" y1="0" x2="0" y2="3" stroke="#5E6472" stroke-width="1"/></pattern>
<pattern id="hatch" width="3" height="3" patternUnits="userSpaceOnUse" patternTransform="rotate(45)"><rect width="3" height="3" fill="#C4C9D4"/><line x1="0" y1="0" x2="0" y2="3" stroke="#8E94A2" stroke-width="1"/></pattern>
</defs>
<polygon points="821,457.5 913,476 913,497.5 821,480.5" fill="#D6D060" opacity="0.75"/>
<polygon points="824,462 897,503 901,508 824,476" fill="#C8C250" opacity="0.5"/>
<ellipse cx="820" cy="469" rx="4.8" ry="13.5" fill="#4E5060"/>
<ellipse cx="823" cy="469" rx="3" ry="12.5" fill="#8A8E60"/>
<polygon points="878.5,562.3 904,509 910,511 884,564" fill="#4C4F60"/>
<rect x="879.7" y="528" width="10.6" height="20" fill="#55586A" transform="rotate(-8 885 538)"/>
<ellipse cx="891.5" cy="517.4" rx="5" ry="6" fill="#5A5D70"/>
<polygon points="896,501 900,500 903,511 897,513" fill="#4C4F60"/>
<polygon points="893,512 898,504 901,513 896,522" fill="#C8C250" opacity="0.8"/>
<path d="M913.5,481 L917,562 C922,584 948,596 972,596 C998,596 1016,584 1021,568 L1022,500 L974.5,428 Z" fill="#959BAA"/>
<path d="M914,488 L931,500 L934,566 C926,566 920,564 917,560 Z" fill="#B2B8C6"/>
<path d="M931,500 L962,522 L962,565 L934,560 Z" fill="#80869A"/>
<path d="M917,560 L934,566 L962,565 L1000,575 L1021,562 C1016,584 998,594 972,594 C948,594 922,584 917,566 Z" fill="#AAB0BE"/>
<path d="M919,572 C928,588 950,593 972,593 C998,593 1014,584 1021,570 L1021,574 C1014,590 998,598 972,598 C946,598 924,588 919,577 Z" fill="#848A9C"/>
<path d="M1000,522 L1021,515 L1021,560 L1000,576 Z" fill="#7A8092"/>
<path d="M974.5,432 L1016,480 L1021,515 L962,530 L951,522 Z" fill="#6E7486"/>
<path d="M970,457 C975,450 985,448 993,452 L997,445 C1012,452 1022,475 1021,500 L1012,505 C1012,490 1005,478 995,470 C985,462 975,461 970,457 Z" fill="url(#hatch)" stroke="#6A9A6A" stroke-width="0.5"/>
<path d="M965,525 C975,528 995,527 1008,515 L1016,511 C1012,525 1000,535 985,540 L970,548 C966,540 964,532 965,525 Z" fill="url(#hatch)" stroke="#6A9A6A" stroke-width="0.5"/>
<path d="M962,530 C955,535 950,545 955,552 C962,556 970,550 972,540 Z" fill="#C6CCD8"/>
<path d="M950,440 C958,436 968,440 972,450 L962,462 C958,455 952,450 950,440 Z" fill="#C4CAD6"/>
<polygon points="957.5,486 1022.5,495 1022.5,515 957.5,505" fill="#C8C040" opacity="0.88"/>
<polygon points="992,490.5 1022.5,495 1022.5,515 992,510" fill="#E4E2A0" opacity="0.75"/>
<polygon points="1022.5,495 1110,515.5 1110,538 1022.5,515" fill="#D6D060" opacity="0.8"/>
<polygon points="1108,520 1038,486 1034,492 1108,534" fill="#C8C250" opacity="0.45"/>
<rect x="908" y="478.5" width="9" height="26.5" rx="3" fill="#C4CAD6"/>
<path d="M974.5,428 C945,418 915,440 913.5,481 C916,496 935,508 949,512 Z" fill="url(#diskG)"/>
<path d="M913.5,481 C916,496 935,508 949,512 L948,516 C933,512 916,502 913.5,486 Z" fill="#9CA2B0"/>
<path d="M974.5,428 L981,430 L979,437 L983,438 L957,522 L950,520 Z" fill="url(#hatch2)" stroke="#5C8C5C" stroke-width="0.6"/>
<ellipse cx="1113" cy="527" rx="4.5" ry="12.5" fill="#4E5060" transform="rotate(10 1113 527)"/>
<polygon points="1031.1,501.5 1052,447 1062,450.5 1041,504" fill="#4C4F66"/>
<ellipse cx="1038" cy="475" rx="6" ry="7" fill="#55586C"/>
<rect x="1044" y="478" width="5" height="2" fill="#333"/>
<polygon points="1036,482 1040,470 1043,472 1039,486" fill="#C8C250" opacity="0.8"/>
<g transform="rotate(14 1060 428)"><rect x="1050" y="418" width="20" height="17" rx="2" fill="#F4F4F4" stroke="#5A5A5A" stroke-width="2"/><polygon points="1053,437 1067,437 1063,444 1057,444" fill="#F4F4F4" stroke="#5A5A5A" stroke-width="1.6"/></g>
<g style="font-size:9.2px" fill="#222">
<text x="830.5999999999999" y="447" textLength="50.5" lengthAdjust="spacingAndGlyphs">Primary Mirror</text>
<text x="840.0" y="509.1" textLength="41.1" lengthAdjust="spacingAndGlyphs">Plane mirror</text>
<text x="862.1999999999999" y="525.7" textLength="11.4" lengthAdjust="spacingAndGlyphs">Slit</text>
<text x="821.5999999999999" y="539.9" textLength="46.8" lengthAdjust="spacingAndGlyphs">Halogen lamp</text>
<text x="824.4" y="548.1" textLength="41.6" lengthAdjust="spacingAndGlyphs">Light source</text>
<text x="829.9" y="554.5" textLength="30.7" lengthAdjust="spacingAndGlyphs">generator</text>
<text x="1073.1" y="433" textLength="38.2" lengthAdjust="spacingAndGlyphs">High-speed</text>
<text x="1079.7" y="440.9" textLength="25" lengthAdjust="spacingAndGlyphs">Camera</text>
<text x="1063.8" y="477.8" textLength="35.7" lengthAdjust="spacingAndGlyphs">Knife edge</text>
<text x="1055.2" y="492.8" textLength="41.1" lengthAdjust="spacingAndGlyphs">Plane mirror</text>
<text x="1046.2" y="547.7" textLength="58.5" lengthAdjust="spacingAndGlyphs">Secondary Mirror</text>
<text x="1026.2" y="569.3" textLength="55.3" lengthAdjust="spacingAndGlyphs">Constant volume</text>
<text x="1040.8999999999999" y="576.7" textLength="27.4" lengthAdjust="spacingAndGlyphs">chamber</text>
</g>
</g>
<g id="topview2">
<defs>
<linearGradient id="ylw" x1="0" y1="0" x2="0" y2="1"><stop offset="0" stop-color="#F2F060" stop-opacity="0.9"/><stop offset="0.6" stop-color="#EEEA50" stop-opacity="0.9"/><stop offset="1" stop-color="#E8E440" stop-opacity="0"/></linearGradient>
<radialGradient id="flm" cx="0.45" cy="0.45" r="0.55"><stop offset="0" stop-color="#FFF8A0"/><stop offset="0.5" stop-color="#FFE030"/><stop offset="0.85" stop-color="#F8A010"/><stop offset="1" stop-color="#E06010"/></radialGradient>
<filter id="flmT" x="-30%" y="-30%" width="160%" height="160%"><feTurbulence type="fractalNoise" baseFrequency="0.15" numOctaves="2" seed="5" result="n"/><feDisplacementMap in="SourceGraphic" in2="n" scale="9" xChannelSelector="R" yChannelSelector="G"/></filter>
<filter id="b25"><feGaussianBlur stdDeviation="2.5"/></filter>
</defs>
<circle cx="1200.5" cy="525" r="61" fill="#A7A7A7"/>
<rect x="1176.7" y="455.1" width="46.6" height="138.2" fill="#F1EEE8" stroke="#C6C6C6" stroke-width="1.3"/>
<rect x="1125.6" y="502.2" width="34.4" height="44.5" fill="#F1EEE8" stroke="#C6C6C6" stroke-width="1.3"/>
<rect x="1241" y="502.2" width="32.3" height="44.5" fill="#F1EEE8" stroke="#C6C6C6" stroke-width="1.3"/>
<path d="M1128.9,505 L1150,505 Q1154,524.5 1150,544 L1128.9,544 Z" fill="#858585"/>
<path d="M1268.9,505 L1250,505 Q1246,524.5 1250,544 L1268.9,544 Z" fill="#858585"/>
<rect x="1178.5" y="574" width="43" height="17.5" fill="#7E7E7E"/>
<ellipse cx="1200" cy="574.5" rx="21.5" ry="2.5" fill="#9C9C9C"/>
<path d="M1178.5,458.9 L1221.5,458.9 L1221.5,475 Q1200,479 1178.5,475 Z" fill="#C4D2E4"/>
<circle cx="1200" cy="524.5" r="42" fill="#8C8A00" stroke="#C8C440" stroke-width="1"/>
<rect x="1180" y="440" width="41" height="55" rx="6" fill="url(#ylw)" filter="url(#b25)"/>
<g filter="url(#flmT)"><ellipse cx="1199.5" cy="520" rx="13" ry="15" fill="url(#flm)"/><polygon points="1192,530 1206,532 1200,545" fill="#F0A020"/></g>
<rect x="1180" y="396.4" width="40.8" height="21.3" rx="3" fill="#2E3F74" stroke="#1E2A50" stroke-width="0.6"/>
<rect x="1188.2" y="417.2" width="24.5" height="25.8" rx="2.5" fill="#2E3F74" stroke="#1E2A50" stroke-width="0.6"/>
<line x1="1188.5" y1="421.5" x2="1212.5" y2="421.5" stroke="#1E2A50" stroke-width="0.8"/>
<g style="font-size:10.6px;font-weight:bold" fill="#FF0000" stroke="#FF0000" stroke-width="0.3">
<text x="1124.9" y="432.3" textLength="47.5" lengthAdjust="spacingAndGlyphs">high-speed</text>
<text x="1124.9" y="439.6" textLength="32.9" lengthAdjust="spacingAndGlyphs">camera</text>
<text x="1226.8" y="460.4" textLength="51.8" lengthAdjust="spacingAndGlyphs">transparent</text>
<text x="1226.8" y="467.8" textLength="27" lengthAdjust="spacingAndGlyphs">quartz</text>
<text x="1226.8" y="475.1" textLength="32" lengthAdjust="spacingAndGlyphs">glasses</text>
<text x="1226.8" y="489.3" textLength="37" lengthAdjust="spacingAndGlyphs">stainless</text>
<text x="1226.8" y="496.7" textLength="50.7" lengthAdjust="spacingAndGlyphs">steel blocks</text>
<text x="1123.0" y="491.6" textLength="36.7" lengthAdjust="spacingAndGlyphs">stainless</text>
<text x="1123.0" y="499.6" textLength="50.7" lengthAdjust="spacingAndGlyphs">steel blocks</text>
<text x="1123.0" y="576.7" textLength="36.3" lengthAdjust="spacingAndGlyphs">stainless</text>
<text x="1123.0" y="584" textLength="50" lengthAdjust="spacingAndGlyphs">steel blocks</text>
</g>
</g>
<!-- ===== ARROWS ===== -->
<g fill="#7030A0">
<polygon points="439.4,87.8 472.2,87.8 460.6,75.6 490.9,90.9 460.6,106.4 472.2,93.9 439.4,93.9"/>
<polygon points="802.5,89 835.4,89 823.3,76.25 853.75,91.9 823.3,107.5 835.4,94.8 802.5,94.8"/>
<polygon points="386.25,424.3 416.8,409 405,422 416,422 416,427.8 405,427.8 416.8,439.9"/>
<polygon points="802.9,387.1 833.3,371.7 821.7,384.2 854.3,384.2 854.3,390 821.7,390 833.3,402.5"/>
<polygon points="1056.25,340.8 1086.5,325.4 1075,338.2 1089.6,338.2 1089.6,343.75 1075,343.75 1086.5,356.25"/>
<polygon points="1001.5,396.1 1016.8,426.9 1004.8,415.2 1004.8,430 998.1,430 998.1,415.2 985.7,426.9"/>
</g>
</svg>
</body></html>
